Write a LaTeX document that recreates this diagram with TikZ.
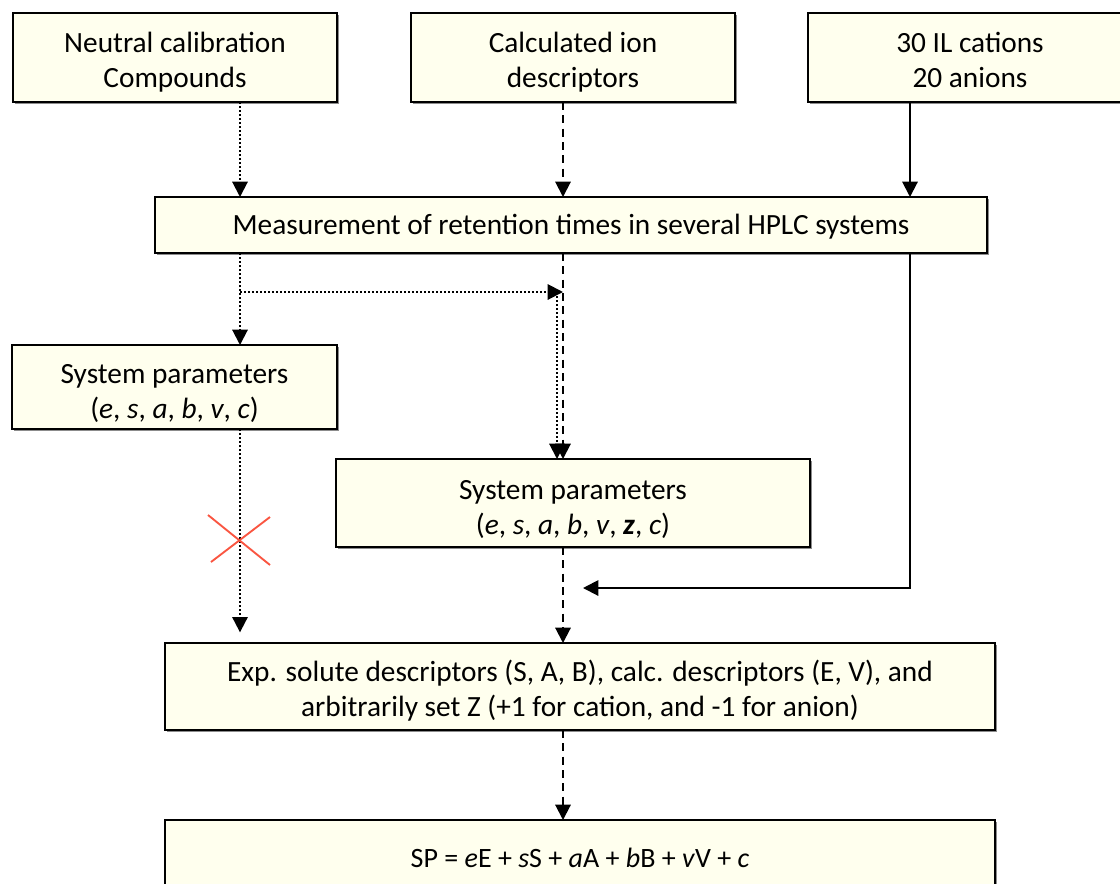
\documentclass[tikz,border=0pt]{standalone}
\usepackage{fontspec}
\setmainfont{Carlito}
\usetikzlibrary{arrows.meta,shadows}
\definecolor{boxfill}{RGB}{255,255,238}
\definecolor{crossred}{RGB}{250,85,65}
\newcommand\boxtext[2][4pt]{\raisebox{-#1}[\height][\depth]{\begin{tabular}{@{}c@{}}#2\end{tabular}}}
\begin{document}
\begin{tikzpicture}[x=0.75pt,y=-0.75pt,
  box/.style={draw, line width=1.2pt, fill=boxfill, align=center, inner sep=0pt, outer sep=0pt,
    font=\fontsize{22}{26.25}\selectfont,
    drop shadow={shadow xshift=1.2pt, shadow yshift=-1.2pt, fill=black, opacity=0.45}},
  conn/.style={line width=1.5pt, -{Triangle[width=11.5pt,length=11.5pt]}},
  dotarr/.style={conn, dash pattern=on 1.5pt off 1.5pt},
  dasharr/.style={conn, dash pattern=on 6pt off 4pt},
  solarr/.style={conn}
]
\useasboundingbox (0,0) rectangle (1120,883);
\clip (0,0) rectangle (1120,883);
\fill[white] (0,0) rectangle (1120,883);

\node[box, minimum width=243pt, minimum height=66.75pt] (b1) at (175,57.5) {\boxtext{Neutral calibration\\Compounds}};
\node[box, minimum width=243pt, minimum height=66.75pt] (b2) at (573,57.5) {\boxtext{Calculated ion\\descriptors}};
\node[box, minimum width=243pt, minimum height=66.75pt] (b3) at (970,57.5) {\boxtext{30 IL cations\\20 anions}};
\node[box, minimum width=624pt, minimum height=42pt] (meas) at (571,225) {\boxtext[2pt]{Measurement of retention times in several HPLC systems}};
\node[box, minimum width=243.75pt, minimum height=63pt] (sys1) at (174.5,387) {\boxtext[5.5pt]{System parameters\\(\textit{e}, \textit{s}, \textit{a}, \textit{b}, \textit{v}, \textit{c})}};
\node[box, minimum width=355.5pt, minimum height=66pt] (sys2) at (573,503) {\boxtext[5pt]{System parameters\\(\textit{e}, \textit{s}, \textit{a}, \textit{b}, \textit{v}, \textbf{\textit{z}}, \textit{c})}};
\node[box, minimum width=622.5pt, minimum height=65.25pt] (exp) at (580,686.5) {\boxtext{Exp. solute descriptors (S, A, B), calc. descriptors (E, V), and\\arbitrarily set Z (+1 for cation, and -1 for anion)}};
\node[box, minimum width=622.5pt, minimum height=65.25pt, font=\fontsize{21}{25}\selectfont] (final) at (580,863.5) {\boxtext[-2pt]{SP = \textit{e}E + \textit{s}S + \textit{a}A + \textit{b}B + \textit{v}V + \textit{c}}};

\coordinate (xa) at (240,0);
\coordinate (xb) at (563,0);
\coordinate (xc) at (910,0);
\coordinate (xd) at (557,0);
\coordinate (br) at (240,292);
\coordinate (tipend) at (583,588);

\draw[dotarr] (b1.south -| xa) -- (meas.north -| xa);
\draw[dasharr] (b2.south -| xb) -- (meas.north -| xb);
\draw[solarr] (b3.south -| xc) -- (meas.north -| xc);

\draw[dotarr] (meas.south -| xa) -- (sys1.north -| xa);
\draw[dotarr] (br) -- (br -| xb);
\draw[dotarr] (br -| xd) -- (sys2.north -| xd);
\draw[dasharr] (meas.south -| xb) -- (sys2.north -| xb);
\draw[solarr] (meas.south -| xc) |- (tipend);

\draw[dotarr, shorten >=8pt] (sys1.south -| xa) -- (exp.north -| xa);
\draw[dasharr] (sys2.south -| xb) -- (exp.north -| xb);
\draw[dasharr] (exp.south -| xb) -- (final.north -| xb);

\draw[crossred, line width=1.4pt] (208,515) -- (270,565);
\draw[crossred, line width=1.4pt] (270,517) -- (211,562);
\end{tikzpicture}
\end{document}
